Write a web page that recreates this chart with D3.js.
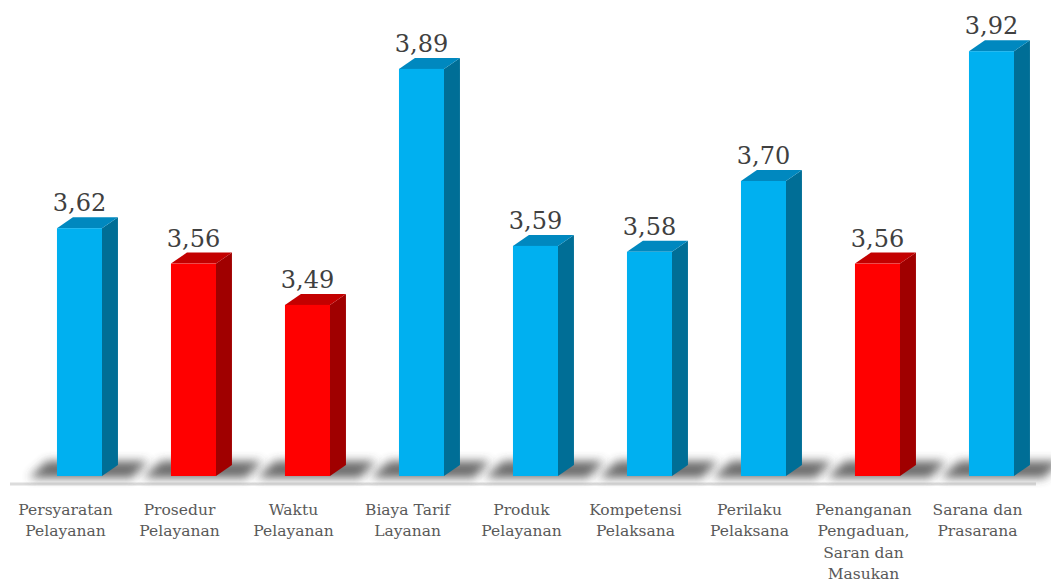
<!DOCTYPE html>
<html>
<head>
<meta charset="utf-8">
<script src="https://cdn.jsdelivr.net/npm/d3@7"></script>
<style>
  html, body { margin: 0; padding: 0; background: #ffffff; }
  svg { display: block; }
</style>
</head>
<body>
<svg id="chart" width="1051" height="581"></svg>
<script>
// Index per service element
const categories = [
  "Persyaratan Pelayanan",
  "Prosedur Pelayanan",
  "Waktu Pelayanan",
  "Biaya Tarif Layanan",
  "Produk Pelayanan",
  "Kompetensi Pelaksana",
  "Perilaku Pelaksana",
  "Penanganan Pengaduan, Saran dan Masukan",
  "Sarana dan Prasarana"
];
const labelLines = [
  ["Persyaratan", "Pelayanan"],
  ["Prosedur", "Pelayanan"],
  ["Waktu", "Pelayanan"],
  ["Biaya Tarif", "Layanan"],
  ["Produk", "Pelayanan"],
  ["Kompetensi", "Pelaksana"],
  ["Perilaku", "Pelaksana"],
  ["Penanganan", "Pengaduan,", "Saran dan", "Masukan"],
  ["Sarana dan", "Prasarana"]
];
const values = [3.62, 3.56, 3.49, 3.89, 3.59, 3.58, 3.70, 3.56, 3.92];
// elements below the target are highlighted
const isLow = [false, true, true, false, false, false, false, true, false];

const palette = {
  blue: { front: "#00B0F0", top: "#0088BF", side: "#006E96" },
  red:  { front: "#FF0000", top: "#C30000", side: "#A00000" }
};

const svg = d3.select("#chart");

const x = d3.scaleBand().domain(categories).range([10, 1036]).padding(0);
const y = d3.scaleLinear().domain([3.2, 4.0]).range([476, 4]);

const bw = x.bandwidth();
const frontOff = bw * 0.412;
const frontW = bw * 0.395;
const depthX = bw * 0.14;
const depthY = 11;
const base = y(3.2);

const defs = svg.append("defs");
defs.append("filter").attr("id", "soft").attr("x", "-50%").attr("y", "-150%")
  .attr("width", "200%").attr("height", "400%")
  .append("feGaussianBlur").attr("stdDeviation", 5);

// floor line
svg.append("line")
  .attr("x1", 10).attr("x2", 1036)
  .attr("y1", base + 8).attr("y2", base + 8)
  .attr("stroke", "#DCDCDC").attr("stroke-width", 3);

const data = categories.map((c, i) => ({ c, v: values[i], low: isLow[i], lines: labelLines[i] }));

// floor shadows
svg.append("g").selectAll("path").data(data).join("path")
  .attr("d", d => {
    const x0 = x(d.c) + frontOff, x1 = x0 + frontW + depthX;
    return `M${x0 - 28},${base + 2} L${x1 + 14},${base + 2} L${x1 + 30},${base - 15} L${x0 - 10},${base - 15} Z`;
  })
  .attr("fill", "#3c3c3c").attr("opacity", 0.75)
  .attr("filter", "url(#soft)");

const bars = svg.append("g").selectAll("g").data(data).join("g");

// side face
bars.append("path")
  .attr("d", d => {
    const x1 = x(d.c) + frontOff + frontW, yt = y(d.v);
    return `M${x1},${yt} L${x1 + depthX},${yt - depthY} L${x1 + depthX},${base - depthY} L${x1},${base} Z`;
  })
  .attr("fill", d => d.low ? palette.red.side : palette.blue.side);

// top face
bars.append("path")
  .attr("d", d => {
    const x0 = x(d.c) + frontOff, yt = y(d.v);
    return `M${x0},${yt} L${x0 + depthX},${yt - depthY} L${x0 + frontW + depthX},${yt - depthY} L${x0 + frontW},${yt} Z`;
  })
  .attr("fill", d => d.low ? palette.red.top : palette.blue.top);

// front face
bars.append("rect")
  .attr("x", d => x(d.c) + frontOff)
  .attr("y", d => y(d.v))
  .attr("width", frontW)
  .attr("height", d => base - y(d.v))
  .attr("fill", d => d.low ? palette.red.front : palette.blue.front);

// value labels
bars.append("text")
  .attr("x", d => x(d.c) + frontOff + frontW / 2)
  .attr("y", d => y(d.v) - depthY - 6)
  .attr("text-anchor", "middle")
  .attr("font-family", "'DejaVu Serif', serif")
  .attr("font-size", 24)
  .attr("fill", "#404040")
  .text(d => d3.format(".2f")(d.v).replace(".", ","));

// category labels
const cat = svg.append("g").selectAll("text").data(data).join("text")
  .attr("x", d => x(d.c) + bw / 2 - 1.5)
  .attr("y", 515)
  .attr("text-anchor", "middle")
  .attr("font-family", "'DejaVu Serif', serif")
  .attr("font-size", 15.5)
  .attr("fill", "#595959");
cat.selectAll("tspan").data(d => d.lines).join("tspan")
  .attr("x", function () { return d3.select(this.parentNode).attr("x"); })
  .attr("dy", (t, i) => i === 0 ? 0 : 21.4)
  .text(t => t);
</script>
</body>
</html>
